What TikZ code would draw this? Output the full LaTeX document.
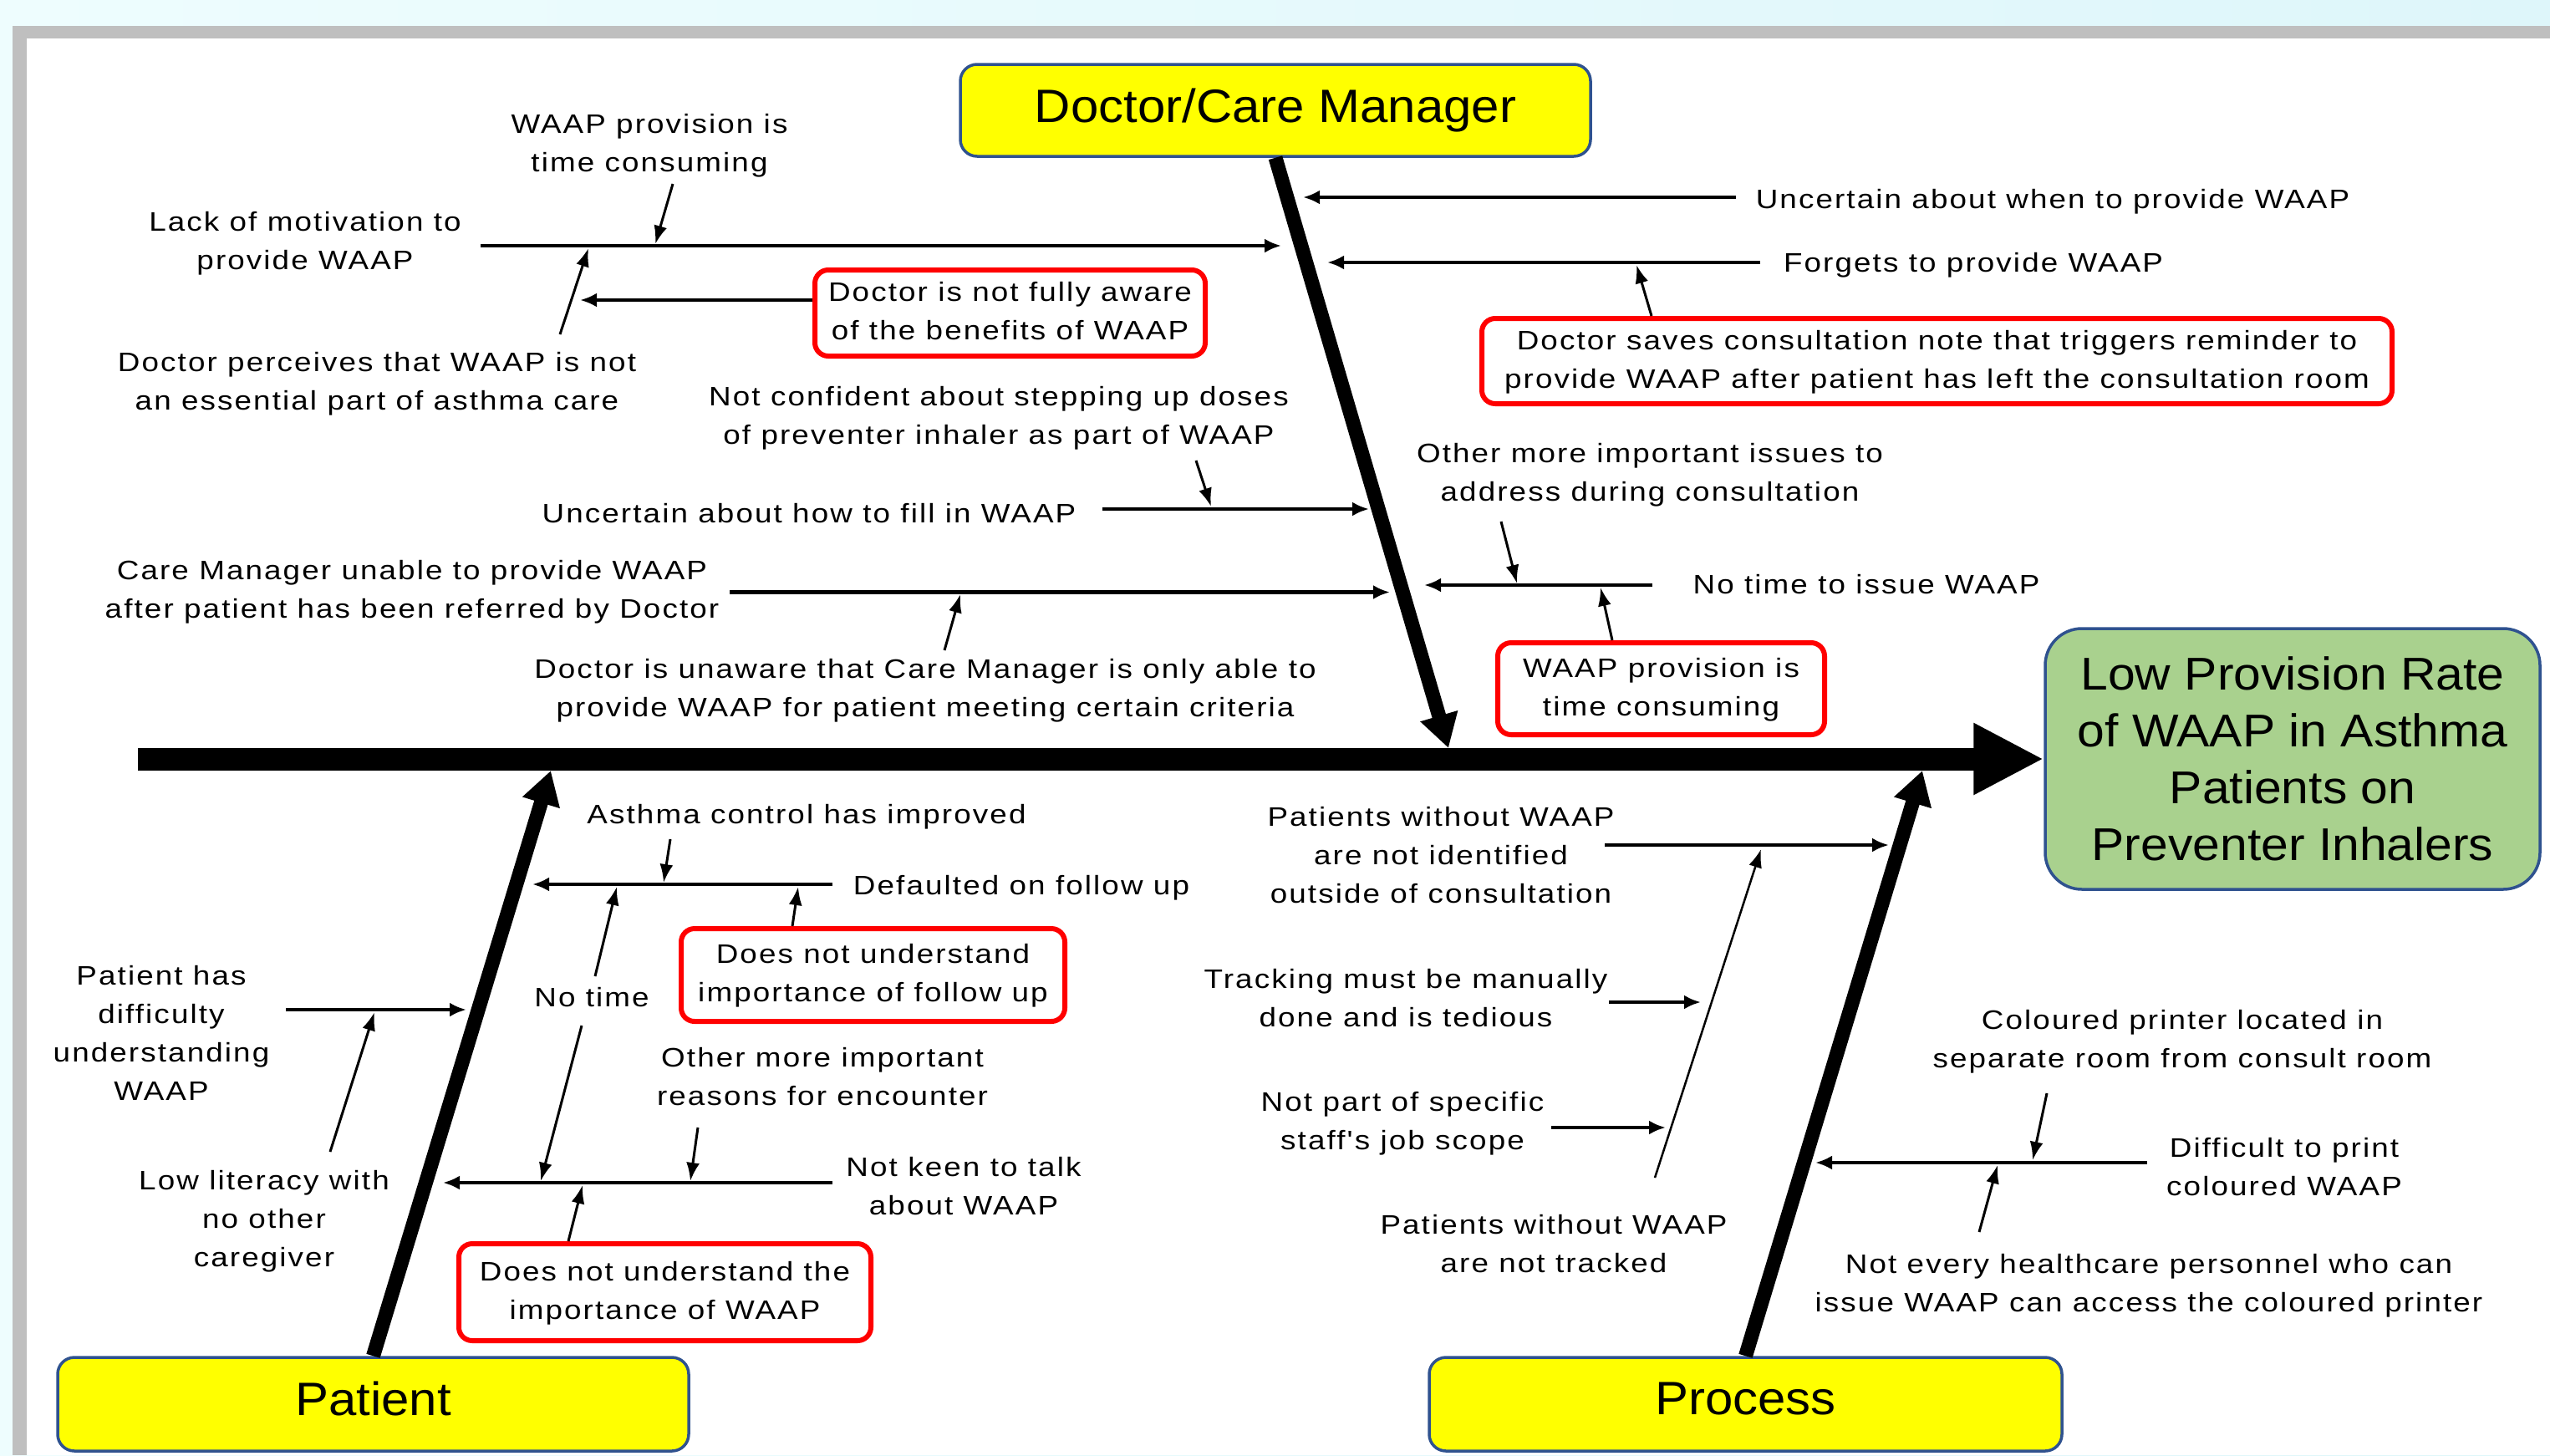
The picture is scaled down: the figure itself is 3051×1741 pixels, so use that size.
\documentclass[tikz,border=0pt]{standalone}
\usepackage{fontspec}
\setmainfont{Liberation Sans}
\newfontfamily\labf[FakeStretch=1.15,LetterSpace=6.6]{Liberation Sans}
\newfontfamily\bigf[FakeStretch=1.07]{Liberation Sans}
\usetikzlibrary{arrows.meta}
\definecolor{bgcyan}{RGB}{238,253,254}
\definecolor{bgcyantwo}{RGB}{222,246,250}
\definecolor{framegray}{RGB}{191,191,191}
\definecolor{boxyellow}{RGB}{255,255,0}
\definecolor{boxblue}{RGB}{47,82,143}
\definecolor{effgreen}{RGB}{169,209,142}
\definecolor{redbox}{RGB}{255,0,0}
\begin{document}
\begin{tikzpicture}[x=1pt,y=-1pt,
  lab/.style={font=\labf\fontsize{32}{46}\selectfont, align=center, inner sep=0pt},
  catbox/.style={draw=boxblue, line width=3.5pt, fill=boxyellow, rounded corners=20pt,
     font=\bigf\fontsize{56}{68}\selectfont, inner sep=0pt},
  effbox/.style={draw=boxblue, line width=3.5pt, fill=effgreen, rounded corners=44pt,
     font=\bigf\fontsize{55}{68}\selectfont, align=center, inner sep=0pt},
  redb/.style={draw=redbox, line width=6pt, fill=white, rounded corners=16pt,
     font=\labf\fontsize{32}{46}\selectfont, align=center, inner sep=0pt},
  bone/.style={line width=17pt, -{Triangle[length=40pt,width=44pt]}},
  spine/.style={line width=27pt, -{Triangle[length=84pt,width=80pt]}},
  sub/.style={line width=4.5pt, -{Latex[length=20pt,width=17pt]}},
  thinarr/.style={line width=3pt, -{Latex[length=22pt,width=16pt]}},
  hair/.style={line width=2.5pt, -{Latex[length=22pt,width=16pt]}},
]
\useasboundingbox (0,0) rectangle (3051,1741);
% background frame
\shade[left color=bgcyan, right color=bgcyantwo] (0,0) rectangle (3051,1741);
\fill[framegray] (15,31) rectangle (3051,1741);
\fill[white] (32,46) rectangle (3051,1741);

% category boxes and effect
\node[catbox, minimum width=754pt, minimum height=110pt] (dcm) at (1526,132) {Doctor/Care Manager};
\node[catbox, minimum width=755pt, minimum height=112pt, text depth=14pt] (pat) at (446.5,1680) {Patient};
\node[catbox, minimum width=757pt, minimum height=112pt, text depth=14pt] (proc) at (2088.5,1680) {Process};
\node[effbox, minimum width=592pt, minimum height=312pt] (eff) at (2743,908)
  {Low Provision Rate\\of WAAP in Asthma\\Patients on\\Preventer Inhalers};

% red boxes
\node[redb, minimum width=467pt, minimum height=103pt] (R1) at (1208.5,374.5)
  {\strut Doctor is not fully aware\\\strut of the benefits of WAAP};
\node[redb, minimum width=1089pt, minimum height=102pt] (R2) at (2317.5,432)
  {\strut Doctor saves consultation note that triggers reminder to\\\strut provide WAAP after patient has left the consultation room};
\node[redb, minimum width=391pt, minimum height=110pt] (R3) at (1987.5,824)
  {\strut WAAP provision is\\\strut time consuming};
\node[redb, minimum width=459pt, minimum height=111pt] (R4) at (1044.5,1166.5)
  {\strut Does not understand\\\strut importance of follow up};
\node[redb, minimum width=493pt, minimum height=116pt] (R5) at (795.5,1546)
  {\strut Does not understand the\\\strut importance of WAAP};

% labels
\node[lab] (t1) at (777,172.8) {\strut WAAP provision is\\\strut time consuming};
\node[lab] (t2) at (365,289.8) {\strut Lack of motivation to\\\strut provide WAAP};
\node[lab] (t3) at (451,457.8) {\strut Doctor perceives that WAAP is not\\\strut an essential part of asthma care};
\node[lab] (t5) at (1195,498.8) {\strut Not confident about stepping up doses\\\strut of preventer inhaler as part of WAAP};
\node[lab] (t6) at (968,615.8) {\strut Uncertain about how to fill in WAAP};
\node[lab] (t7) at (493,706.8) {\strut Care Manager unable to provide WAAP\\\strut after patient has been referred by Doctor};
\node[lab] (t8) at (1107,824.8) {\strut Doctor is unaware that Care Manager is only able to\\\strut provide WAAP for patient meeting certain criteria};
\node[lab] (t9) at (2456,239.8) {\strut Uncertain about when to provide WAAP};
\node[lab] (t10) at (2361,316) {\strut Forgets to provide WAAP};
\node[lab] (t12) at (1974,566.8) {\strut Other more important issues to\\\strut address during consultation};
\node[lab] (t13) at (2233,700.8) {\strut No time to issue WAAP};
\node[lab] (t15) at (965,975.8) {\strut Asthma control has improved};
\node[lab] (t16) at (1222,1061) {\strut Defaulted on follow up};
\node[lab] (t17) at (708,1195) {\strut No time};
\node[lab] (t19) at (193,1237.8) {\strut Patient has\\\strut difficulty\\\strut understanding\\\strut WAAP};
\node[lab] (t20) at (316,1459.8) {\strut Low literacy with\\\strut no other\\\strut caregiver};
\node[lab] (t21) at (984,1289.8) {\strut Other more important\\\strut reasons for encounter};
\node[lab] (t22) at (1153,1420.8) {\strut Not keen to talk\\\strut about WAAP};
\node[lab] (t24) at (1724,1024.8) {\strut Patients without WAAP\\\strut are not identified\\\strut outside of consultation};
\node[lab] (t25) at (1859,1489.8) {\strut Patients without WAAP\\\strut are not tracked};
\node[lab] (t26) at (1682,1195.8) {\strut Tracking must be manually\\\strut done and is tedious};
\node[lab] (t27) at (1678,1342.8) {\strut Not part of specific\\\strut staff's job scope};
\node[lab] (t28) at (2611,1244.8) {\strut Coloured printer located in\\\strut separate room from consult room};
\node[lab] (t29) at (2733,1397.8) {\strut Difficult to print\\\strut coloured WAAP};
\node[lab] (t30) at (2571,1536.8) {\strut Not every healthcare personnel who can\\\strut issue WAAP can access the coloured printer};

% spine and bones
\coordinate (spL) at (165,908);
\coordinate (dtip) at (1733,895);
\coordinate (ptip) at (659,922);
\coordinate (prtip) at (2300,922);
\draw[spine] (spL) -- (eff.west);
\draw[bone] (dcm.south) -- (dtip);
\draw[bone] (pat.north) -- (ptip);
\draw[bone] (proc.north) -- (prtip);

% sub-branch coordinates
\coordinate (a1s) at (805,220);   \coordinate (a1e) at (784,292);
\coordinate (a2s) at (575,294);   \coordinate (a2e) at (1533,294);
\coordinate (a3s) at (670,400);   \coordinate (a3e) at (704,297);
\coordinate (a4e) at (694,359);
\coordinate (a5s) at (1431,551);  \coordinate (a5e) at (1449,606);
\coordinate (a6s) at (1319,609);  \coordinate (a6e) at (1638,609);
\coordinate (a7s) at (873,708.5); \coordinate (a7e) at (1663,708.5);
\coordinate (a8s) at (1130,778);  \coordinate (a8e) at (1149,711);
\coordinate (a9s) at (2077,236);  \coordinate (a9e) at (1559,236);
\coordinate (a10s) at (2106,314); \coordinate (a10e) at (1588,314);
\coordinate (a11s) at (1976,378); \coordinate (a11e) at (1958,317);
\coordinate (a12s) at (1796,624); \coordinate (a12e) at (1815,698);
\coordinate (a13s) at (1977,700); \coordinate (a13e) at (1704,700);
\coordinate (a14s) at (1929,766); \coordinate (a14e) at (1915,703);
\coordinate (a15s) at (802,1004); \coordinate (a15e) at (794,1056);
\coordinate (a16s) at (996,1058); \coordinate (a16e) at (637,1058);
\coordinate (a17s) at (712,1168); \coordinate (a17e) at (738,1061);
\coordinate (a18s) at (696,1227); \coordinate (a18e) at (647,1413);
\coordinate (a19s) at (948,1108); \coordinate (a19e) at (955,1061);
\coordinate (a20s) at (342,1208); \coordinate (a20e) at (558,1208);
\coordinate (a21s) at (395,1378); \coordinate (a21e) at (448,1211);
\coordinate (a22s) at (835,1349); \coordinate (a22e) at (826,1413);
\coordinate (a23s) at (996,1415); \coordinate (a23e) at (530,1415);
\coordinate (a24s) at (680,1485); \coordinate (a24e) at (697,1418);
\coordinate (a25s) at (1920,1011); \coordinate (a25e) at (2260,1011);
\coordinate (a26s) at (1980,1409); \coordinate (a26e) at (2107,1016);
\coordinate (a27s) at (1925,1199); \coordinate (a27e) at (2035,1199);
\coordinate (a28s) at (1856,1349); \coordinate (a28e) at (1993,1349);
\coordinate (a29s) at (2449,1308); \coordinate (a29e) at (2432,1388);
\coordinate (a30s) at (2569,1391); \coordinate (a30e) at (2172,1391);
\coordinate (a31s) at (2368,1474); \coordinate (a31e) at (2390,1394);

% Doctor side
\draw[thinarr] (a1s) -- (a1e);
\draw[sub] (a2s) -- (a2e);
\draw[thinarr] (a3s) -- (a3e);
\draw[sub] (R1.west |- a4e) -- (a4e);
\draw[thinarr] (a5s) -- (a5e);
\draw[sub] (a6s) -- (a6e);
\draw[sub] (a7s) -- (a7e);
\draw[thinarr] (a8s) -- (a8e);
\draw[sub] (a9s) -- (a9e);
\draw[sub] (a10s) -- (a10e);
\draw[thinarr] (a11s) -- (a11e);
\draw[thinarr] (a12s) -- (a12e);
\draw[sub] (a13s) -- (a13e);
\draw[thinarr] (a14s) -- (a14e);
% Patient side
\draw[thinarr] (a15s) -- (a15e);
\draw[sub] (a16s) -- (a16e);
\draw[thinarr] (a17s) -- (a17e);
\draw[thinarr] (a18s) -- (a18e);
\draw[thinarr] (a19s) -- (a19e);
\draw[sub] (a20s) -- (a20e);
\draw[thinarr] (a21s) -- (a21e);
\draw[thinarr] (a22s) -- (a22e);
\draw[sub] (a23s) -- (a23e);
\draw[thinarr] (a24s) -- (a24e);
% Process side
\draw[sub] (a25s) -- (a25e);
\draw[hair] (a26s) -- (a26e);
\draw[sub] (a27s) -- (a27e);
\draw[sub] (a28s) -- (a28e);
\draw[thinarr] (a29s) -- (a29e);
\draw[sub] (a30s) -- (a30e);
\draw[thinarr] (a31s) -- (a31e);
\end{tikzpicture}
\end{document}
